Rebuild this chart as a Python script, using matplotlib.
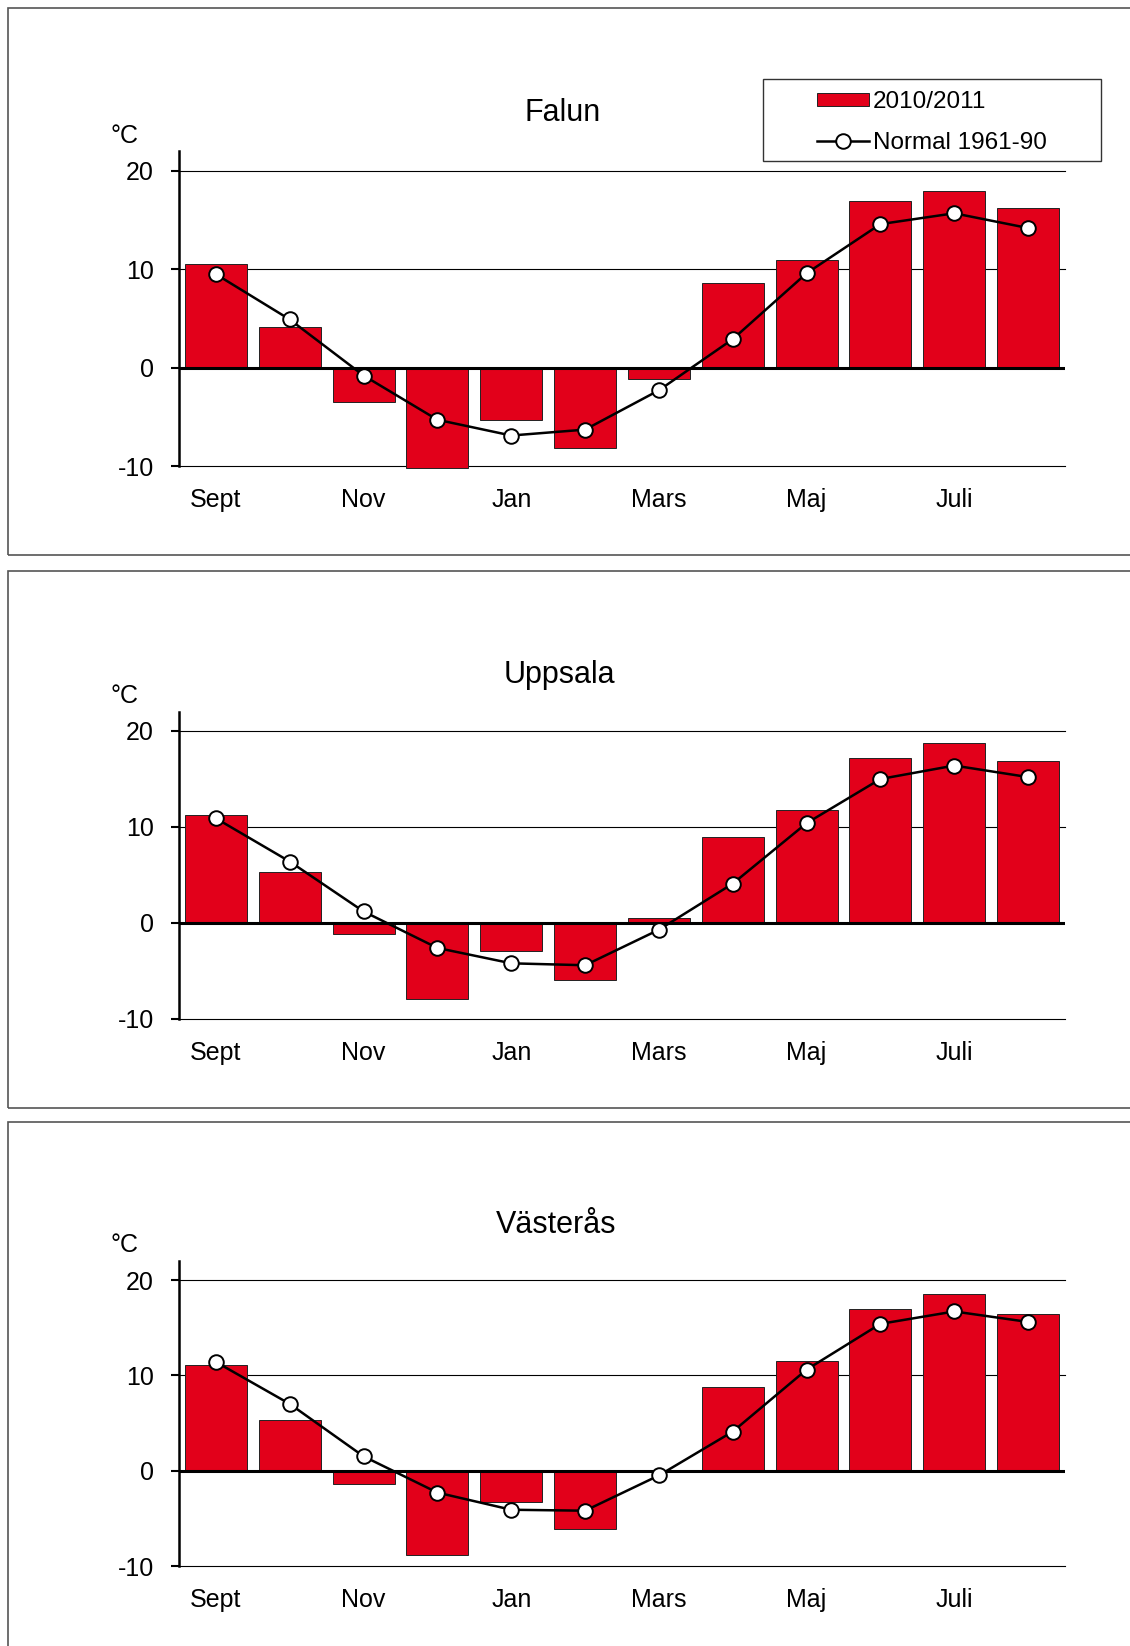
import matplotlib
matplotlib.use("Agg")
import matplotlib.pyplot as plt
from matplotlib.patches import Rectangle, Patch
from matplotlib.lines import Line2D

plt.rcParams['font.family'] = ['Liberation Sans', 'DejaVu Sans']
plt.rcParams['axes.unicode_minus'] = False

W, H = 1130, 1646

months = ['Sept', 'Okt', 'Nov', 'Dec', 'Jan', 'Feb', 'Mars', 'Apr', 'Maj', 'Juni', 'Juli', 'Aug']
stations = ['Falun', 'Uppsala', 'Västerås']

falun_2010 = [10.5, 4.1, -3.5, -10.2, -5.3, -8.2, -1.2, 8.6, 10.9, 16.9, 18.0, 16.2]
falun_norm = [9.5, 4.9, -0.8, -5.3, -6.9, -6.3, -2.3, 2.9, 9.6, 14.6, 15.7, 14.2]
uppsala_2010 = [11.2, 5.3, -1.1, -7.9, -2.9, -5.9, 0.5, 9.0, 11.8, 17.2, 18.8, 16.9]
uppsala_norm = [10.9, 6.4, 1.2, -2.6, -4.2, -4.4, -0.7, 4.1, 10.4, 15.0, 16.4, 15.2]
vasteras_2010 = [11.1, 5.3, -1.4, -8.8, -3.3, -6.1, 0.0, 8.8, 11.5, 17.0, 18.5, 16.4]
vasteras_norm = [11.4, 7.0, 1.5, -2.3, -4.1, -4.2, -0.5, 4.1, 10.6, 15.4, 16.7, 15.6]

season = [falun_2010, uppsala_2010, vasteras_2010]
normal = [falun_norm, uppsala_norm, vasteras_norm]

RED = '#E2001A'
FS = 18

# pixel layout: (frame top, frame bottom, y of -10, y of 20, title x, title y)
panels = [
    (8, 555, 466, 171, 563, 113),
    (571, 1108, 1019, 731, 559, 675),
    (1122, 1660, 1566, 1280, 556, 1225),
]

fig = plt.figure(figsize=(W / 100, H / 100), dpi=100)


def fx(px):
    return px / W


def fy(py):
    return 1 - py / H


x = list(range(len(months)))

for i, (ftop, fbot, ym10, y20, tx, ty) in enumerate(panels):
    # outer frame
    fig.add_artist(Rectangle((fx(8), fy(fbot)), fx(W + 20), (fbot - ftop) / H,
                             transform=fig.transFigure, fill=False,
                             edgecolor='#555555', lw=1.2, clip_on=False))

    unit = (ym10 - y20) / 30.0
    ytop = y20 - 2 * unit
    ax = fig.add_axes([fx(179), fy(ym10), fx(1065 - 179), (ym10 - ytop) / H])
    ax.set_xlim(-0.5, 11.5)
    ax.set_ylim(-10, 22)

    for g in [-10, 10, 20]:
        ax.axhline(g, color='black', lw=0.8, zorder=1, clip_on=False)
    ax.bar(x, season[i], width=0.84, color=RED, edgecolor='#222222',
           lw=0.7, zorder=2, clip_on=False)
    ax.axhline(0, color='black', lw=2.2, zorder=3)
    ax.plot(x, normal[i], color='black', lw=1.8, marker='o', ms=10.5,
            mfc='white', mec='black', mew=1.4, zorder=4)

    for s in ['top', 'right', 'bottom']:
        ax.spines[s].set_visible(False)
    ax.spines['left'].set_linewidth(1.8)
    ax.spines['left'].set_zorder(5)
    ax.set_yticks([-10, 0, 10, 20])
    ax.tick_params(axis='y', direction='out', length=6, width=1.5,
                   pad=12, labelsize=FS)
    ax.set_xticks(x[::2])
    ax.set_xticklabels(months[::2])
    ax.tick_params(axis='x', length=0, pad=15.5, labelsize=FS)

    fig.text(fx(tx), fy(ty), stations[i], fontsize=22, ha='center', va='center')
    fig.text(fx(124), fy(y20 - 35), '°C', fontsize=FS, ha='center', va='center')

# legend (only in the top panel)
handles = [
    Patch(facecolor=RED, edgecolor='#222222', lw=0.7),
    Line2D([0], [0], color='black', lw=1.8, marker='o', ms=10.5,
           mfc='white', mec='black', mew=1.4),
]
fig.legend(handles, ['2010/2011', 'Normal 1961-90'], loc='upper left',
           bbox_to_anchor=(fx(817), fy(91)), frameon=False, fontsize=17.5,
           borderpad=0, borderaxespad=0, handlelength=2.15, handleheight=0.45,
           handletextpad=0.15, labelspacing=0.78)
fig.add_artist(Rectangle((fx(763), fy(161)), fx(1101 - 763), (161 - 79) / H,
                         transform=fig.transFigure, fill=False,
                         edgecolor='#333333', lw=1.0))

fig.savefig('out.png', dpi=100)
